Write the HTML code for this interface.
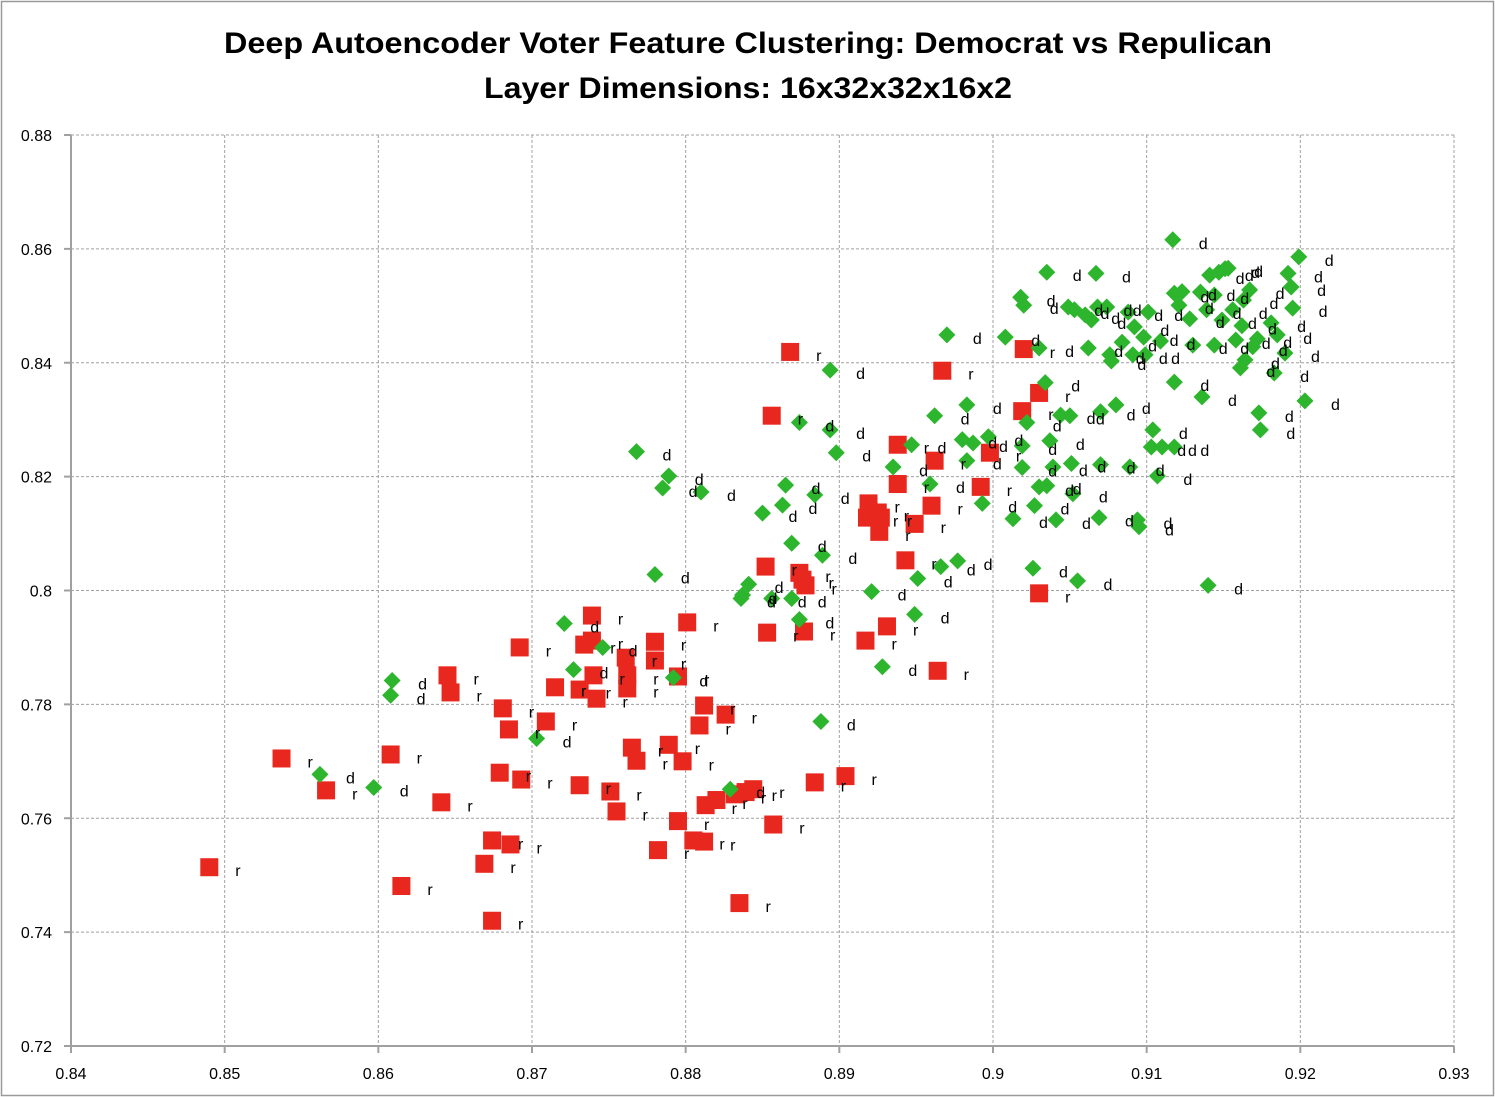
<!DOCTYPE html>
<html><head><meta charset="utf-8"><style>
html,body{margin:0;padding:0;background:#fff}
svg{display:block;font-family:"Liberation Sans",sans-serif}
</style></head><body>
<svg id="chart" width="1495" height="1097" xmlns="http://www.w3.org/2000/svg">
<rect x="1.5" y="1.5" width="1492" height="1094" fill="#fff" stroke="#9a9a9a" stroke-width="1.5"/>
<g font-weight="bold" font-size="30" text-anchor="middle" fill="#000">
<text x="748" y="53" textLength="1048" lengthAdjust="spacingAndGlyphs">Deep Autoencoder Voter Feature Clustering: Democrat vs Repulican</text>
<text x="748" y="98" textLength="528" lengthAdjust="spacingAndGlyphs">Layer Dimensions: 16x32x32x16x2</text>
</g>
<g id="grid"></g>
<g id="axes"></g>
<g id="marks"></g>
</svg>
<script>
const xTicks=[0.84,0.85,0.86,0.87,0.88,0.89,0.9,0.91,0.92,0.93];
const xTickLabels=["0.84","0.85","0.86","0.87","0.88","0.89","0.9","0.91","0.92","0.93"];
const yTicks=[0.72,0.74,0.76,0.78,0.8,0.82,0.84,0.86,0.88];
const yTickLabels=["0.72","0.74","0.76","0.78","0.8","0.82","0.84","0.86","0.88"];
const repX=[0.8490,0.8537,0.8566,0.8615,0.8608,0.8641,0.8645,0.8647,0.8669,0.8674,0.8674,0.8679,0.8681,0.8685,0.8686,0.8692,0.8693,0.8709,0.8715,0.8731,0.8731,0.8734,0.8739,0.8739,0.8740,0.8742,0.8751,0.8755,0.8761,0.8762,0.8762,0.8765,0.8768,0.8780,0.8780,0.8789,0.8795,0.8798,0.8782,0.8795,0.8801,0.8805,0.8809,0.8812,0.8812,0.8813,0.8820,0.8826,0.8832,0.8839,0.8844,0.8835,0.8852,0.8853,0.8857,0.8868,0.8856,0.8874,0.8876,0.8878,0.8877,0.8884,0.8904,0.8917,0.8919,0.8918,0.8925,0.8927,0.8926,0.8931,0.8938,0.8938,0.8943,0.8949,0.8960,0.8962,0.8964,0.8967,0.8992,0.8998,0.9019,0.9020,0.9030,0.9030];
const repY=[0.7514,0.7705,0.7649,0.7481,0.7712,0.7628,0.7851,0.7821,0.7520,0.7561,0.7420,0.7680,0.7793,0.7756,0.7554,0.7900,0.7668,0.7770,0.7830,0.7658,0.7826,0.7905,0.7956,0.7912,0.7851,0.7810,0.7647,0.7612,0.7882,0.7851,0.7828,0.7724,0.7701,0.7910,0.7877,0.7729,0.7595,0.7700,0.7544,0.7849,0.7944,0.7561,0.7763,0.7798,0.7559,0.7623,0.7632,0.7782,0.7642,0.7646,0.7651,0.7451,0.8042,0.7926,0.7589,0.8419,0.8307,0.8031,0.8019,0.8009,0.7928,0.7663,0.7674,0.7912,0.8153,0.8128,0.8137,0.8128,0.8103,0.7937,0.8256,0.8187,0.8053,0.8117,0.8149,0.8228,0.7859,0.8386,0.8182,0.8242,0.8315,0.8424,0.8347,0.7995];
const demX=[0.8562,0.8597,0.8608,0.8609,0.8703,0.8721,0.8727,0.8746,0.8768,0.8780,0.8785,0.8789,0.8792,0.8810,0.8829,0.8836,0.8837,0.8841,0.8850,0.8856,0.8863,0.8865,0.8869,0.8869,0.8874,0.8874,0.8884,0.8888,0.8889,0.8894,0.8894,0.8898,0.8921,0.8928,0.8935,0.8947,0.8949,0.8951,0.8959,0.8962,0.8966,0.8970,0.8977,0.8980,0.8983,0.8983,0.8987,0.8993,0.8997,0.9008,0.9013,0.9018,0.9020,0.9019,0.9019,0.9022,0.9026,0.9027,0.9030,0.9030,0.9034,0.9035,0.9035,0.9037,0.9039,0.9041,0.9044,0.9049,0.9050,0.9051,0.9052,0.9053,0.9055,0.9060,0.9062,0.9064,0.9067,0.9068,0.9069,0.9070,0.9070,0.9074,0.9076,0.9077,0.9080,0.9084,0.9088,0.9089,0.9091,0.9092,0.9094,0.9095,0.9098,0.9099,0.9101,0.9103,0.9104,0.9107,0.9109,0.9110,0.9117,0.9118,0.9118,0.9118,0.9121,0.9123,0.9128,0.9130,0.9135,0.9136,0.9139,0.9141,0.9144,0.9140,0.9144,0.9147,0.9149,0.9151,0.9153,0.9156,0.9158,0.9161,0.9162,0.9163,0.9164,0.9167,0.9169,0.9172,0.9173,0.9174,0.9181,0.9183,0.9185,0.9190,0.9192,0.9194,0.9195,0.9199,0.9203];
const demY=[0.7677,0.7654,0.7816,0.7842,0.7740,0.7942,0.7861,0.7900,0.8244,0.8028,0.8180,0.8201,0.7847,0.8173,0.7651,0.7986,0.7992,0.8011,0.8136,0.7986,0.8150,0.8185,0.8083,0.7986,0.7949,0.8295,0.8168,0.7770,0.8062,0.8387,0.8282,0.8242,0.7998,0.7866,0.8217,0.8256,0.7958,0.8021,0.8187,0.8307,0.8042,0.8449,0.8052,0.8265,0.8326,0.8228,0.8259,0.8153,0.8270,0.8445,0.8126,0.8515,0.8501,0.8254,0.8216,0.8295,0.8039,0.8149,0.8182,0.8426,0.8365,0.8559,0.8184,0.8263,0.8217,0.8124,0.8308,0.8498,0.8307,0.8223,0.8170,0.8493,0.8017,0.8484,0.8426,0.8475,0.8557,0.8498,0.8128,0.8314,0.8221,0.8498,0.8414,0.8403,0.8326,0.8436,0.8489,0.8217,0.8414,0.8463,0.8124,0.8112,0.8445,0.8414,0.8489,0.8252,0.8282,0.8201,0.8438,0.8252,0.8616,0.8522,0.8366,0.8252,0.8501,0.8525,0.8477,0.8431,0.8524,0.8340,0.8493,0.8554,0.8519,0.8009,0.8431,0.8559,0.8475,0.8565,0.8566,0.8493,0.8440,0.8391,0.8465,0.8510,0.8405,0.8528,0.8428,0.8442,0.8312,0.8282,0.8470,0.8382,0.8449,0.8417,0.8557,0.8533,0.8496,0.8586,0.8333];

const NS="http://www.w3.org/2000/svg";
const L=71,R=1454,T=135,B=1046,X0=0.84,X1=0.93,Y0=0.72,Y1=0.88;
function sx(v){return L+(v-X0)/(X1-X0)*(R-L);}
function sy(v){return B-(v-Y0)/(Y1-Y0)*(B-T);}
function mk(tag,attrs,parent){const e=document.createElementNS(NS,tag);for(const k in attrs)e.setAttribute(k,attrs[k]);parent.appendChild(e);return e;}
const grid=document.getElementById('grid'),axes=document.getElementById('axes'),marks=document.getElementById('marks');
xTicks.forEach((v,i)=>{
  const x=sx(v);
  if(i>0){const g=mk('line',{x1:x,x2:x,y1:T,y2:B,stroke:'#a0a0a0','stroke-width':1,'stroke-dasharray':'3,2'},grid);
  
  }
  const tk=mk('line',{x1:x,x2:x,y1:B,y2:B+7,stroke:'#a0a0a0','stroke-width':2},axes);
  
  
  const t=mk('text',{x:x,y:B+33,'font-size':16,'text-anchor':'middle',fill:'#000'},axes);
  
  
  t.textContent=xTickLabels[i];
});
yTicks.forEach((v,i)=>{
  const y=sy(v);
  if(i>0){const g=mk('line',{x1:L,x2:R,y1:y,y2:y,stroke:'#a0a0a0','stroke-width':1,'stroke-dasharray':'3,2'},grid);
  
  }
  const tk=mk('line',{x1:L-7,x2:L,y1:y,y2:y,stroke:'#a0a0a0','stroke-width':2},axes);
  
  
  const t=mk('text',{x:52,y:y+6,'font-size':16,'text-anchor':'end',fill:'#000'},axes);
  
  
  t.textContent=yTickLabels[i];
});
const ax1=mk('line',{x1:L,x2:L,y1:T,y2:B+1,stroke:'#a0a0a0','stroke-width':2},axes);


const ax2=mk('line',{x1:L-1,x2:R,y1:B,y2:B,stroke:'#a0a0a0','stroke-width':2},axes);


const labels=[];
repX.forEach((v,i)=>{
  const x=sx(v),y=sy(repY[i]);
  const r=mk('rect',{x:x-9,y:y-9,width:18,height:18,fill:'#e8281e'},marks);
  
  
  labels.push([x,y,'r']);
});
demX.forEach((v,i)=>{
  const x=sx(v),y=sy(demY[i]);
  const d=mk('polygon',{points:`${x},${y-8.5} ${x+8.5},${y} ${x},${y+8.5} ${x-8.5},${y}`,fill:'#2db52d'},marks);
  
  
  labels.push([x,y,'d']);
});
labels.forEach(l=>{
  const t=mk('text',{x:l[0]+26,y:l[1]+9,'font-size':16,fill:'#000'},marks);
  
  
  t.textContent=l[2];
});
</script>
</body></html>
